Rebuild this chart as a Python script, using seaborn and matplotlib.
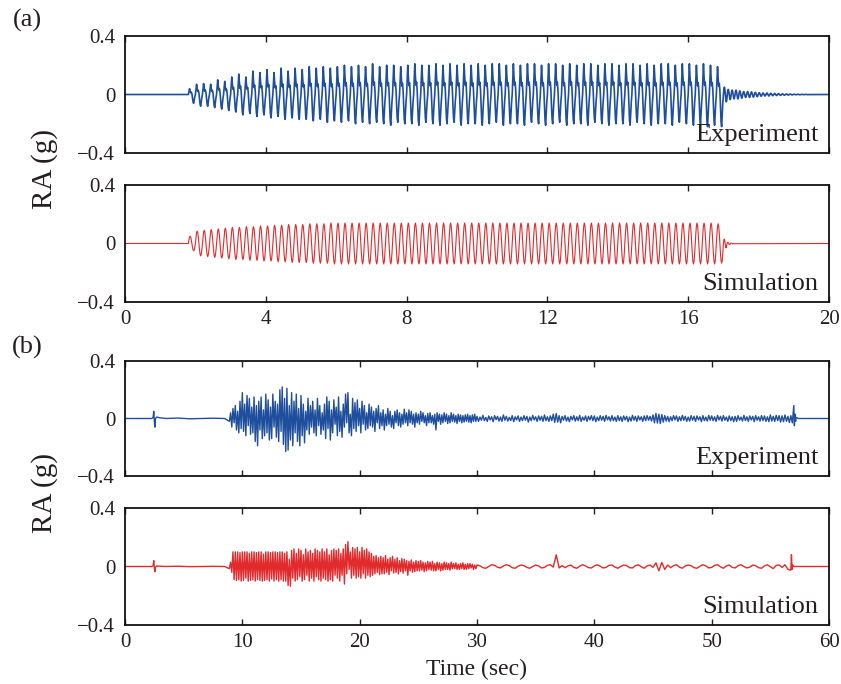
import numpy as np
import pandas as pd
import seaborn as sns
import matplotlib
matplotlib.use('Agg')
import matplotlib.pyplot as plt

# ---------------- panel (a): harmonic test, 5 Hz ----------------
a_start = 1.8        # s, first cycle
a_period = 0.2       # s
# peak / trough of every cycle
exp_top = [0.04, 0.07, 0.075, 0.07, 0.10, 0.09,
           0.12, 0.14, 0.12, 0.16, 0.15,
           0.17, 0.15, 0.18, 0.16, 0.18,
           0.17, 0.19, 0.18, 0.19, 0.18,
           0.19, 0.20, 0.19, 0.20, 0.19, 0.21, 0.19, 0.20, 0.20, 0.19,
           0.20, 0.21, 0.20, 0.20, 0.21, 0.20, 0.21, 0.20, 0.21, 0.20,
           0.21, 0.20, 0.21, 0.21, 0.20, 0.21, 0.20, 0.21, 0.21, 0.20,
           0.21, 0.21, 0.20, 0.21, 0.20, 0.21, 0.21, 0.20, 0.21, 0.21,
           0.20, 0.21, 0.21, 0.20, 0.21, 0.20, 0.21, 0.21, 0.20, 0.21,
           0.21, 0.20, 0.21, 0.20, 0.19]
exp_bot = [-0.06, -0.08, -0.08, -0.09, -0.10, -0.11,
           -0.12, -0.14, -0.13, -0.15, -0.14,
           -0.16, -0.15, -0.17, -0.16, -0.17,
           -0.17, -0.18, -0.17, -0.19, -0.18,
           -0.19, -0.18, -0.20, -0.19, -0.20, -0.19, -0.20, -0.21, -0.19, -0.20,
           -0.20, -0.21, -0.19, -0.20, -0.21, -0.20, -0.19, -0.21, -0.20, -0.20,
           -0.21, -0.20, -0.19, -0.21, -0.20, -0.20, -0.21, -0.19, -0.20, -0.21,
           -0.20, -0.19, -0.21, -0.20, -0.20, -0.21, -0.19, -0.20, -0.21, -0.20,
           -0.20, -0.21, -0.19, -0.20, -0.21, -0.20, -0.20, -0.21, -0.19, -0.20,
           -0.21, -0.20, -0.22, -0.21, -0.22]
sim_amp = [0.05, 0.085, 0.09, 0.095, 0.10, 0.105,
           0.11, 0.11, 0.115, 0.115, 0.12,
           0.12, 0.125, 0.125, 0.13, 0.13,
           0.13, 0.135, 0.135, 0.135, 0.14,
           0.14, 0.14, 0.14, 0.14, 0.14, 0.14, 0.14, 0.14, 0.14, 0.14,
           0.14, 0.14, 0.14, 0.14, 0.14, 0.14, 0.14, 0.14, 0.14, 0.14,
           0.14, 0.14, 0.14, 0.14, 0.14, 0.14, 0.14, 0.14, 0.14, 0.14,
           0.14, 0.14, 0.14, 0.14, 0.14, 0.14, 0.14, 0.14, 0.14, 0.14,
           0.14, 0.14, 0.14, 0.14, 0.14, 0.14, 0.14, 0.14, 0.14, 0.14,
           0.14, 0.14, 0.14, 0.14, 0.135]
# one-cycle wave shapes (normalised)
exp_shape = [0.0, 0.55, 1.0, 0.6, 0.3, 0.4, 0.15, -0.4, -0.85, -1.0, -0.6, -0.25]
sine_shape = [0.0, 0.5, 0.87, 1.0, 0.87, 0.5, 0.0, -0.5, -0.87, -1.0, -0.87, -0.5]
# free vibration after the shaking stops
exp_ring_period = 0.11
exp_ring_amp = [0.05, 0.035, 0.03, 0.03, 0.025, 0.02, 0.02, 0.018, 0.015, 0.012, 0.01,
                0.01, 0.008, 0.007, 0.006, 0.005, 0.004, 0.003, 0.002, 0.002, 0.001, 0.001]
sim_ring_period = 0.1
sim_ring_amp = [0.03, 0.008, 0.003]

# ---------------- panel (b): earthquake record ----------------
exp_pre_t = [0.0, 2.3, 2.4, 2.45, 2.5, 2.55, 2.6, 2.7, 2.9, 3.5, 4.5, 5.5, 6.5, 7.5, 8.5, 8.9]
exp_pre_v = [0.0, 0.0, 0.01, 0.05, -0.02, -0.06, 0.0, 0.01, 0.006, 0.0, 0.003, -0.002, 0.0, 0.002, 0.0, -0.02]
sim_pre_t = [0.0, 2.3, 2.4, 2.45, 2.5, 2.55, 2.6, 2.7, 2.9, 3.5, 4.5, 5.5, 6.5, 7.5, 8.5, 8.9]
sim_pre_v = [0.0, 0.0, 0.005, 0.04, -0.01, -0.035, -0.005, 0.004, 0.002, 0.0, 0.002, -0.001, 0.0, 0.001, 0.0, -0.015]

main_t0, main_dt = 9.0, 0.1      # strong motion part, 9-30 s
exp_main = [
    0.04, -0.06, 0.07, -0.03, 0.09, -0.08, 0.05, -0.10, 0.12, -0.07,
    0.18, -0.09, 0.10, -0.12, 0.16, -0.05, 0.14, -0.11, 0.08, -0.10,
    0.15, -0.16, 0.09, -0.19, 0.12, -0.08, 0.15, -0.14, 0.06, -0.12,
    0.17, -0.10, 0.13, -0.15, 0.08, -0.14, 0.17, -0.06, 0.12, -0.13,
    0.10, -0.16, 0.20, -0.09, 0.22, -0.18, 0.14, -0.23, 0.21, -0.22,
    0.09, -0.15, 0.18, -0.19, 0.12, -0.10, 0.17, -0.16, 0.07, -0.19,
    0.16, -0.12, 0.10, -0.17, 0.05, -0.08, 0.14, -0.11, 0.09, -0.06,
    0.12, -0.10, 0.06, -0.12, 0.14, -0.05, 0.09, -0.11, 0.04, -0.08,
    0.10, -0.14, 0.15, -0.07, 0.12, -0.15, 0.06, -0.10, 0.13, -0.04,
    0.08, -0.12, 0.15, -0.09, 0.05, -0.13, 0.10, -0.06, 0.17, -0.03,
    0.18, -0.10, 0.03, -0.12, 0.14, -0.07, 0.11, -0.09, 0.13, -0.05,
    0.07, -0.10, 0.12, -0.04, 0.09, -0.08, 0.04, -0.07, 0.10, -0.05,
    0.08, -0.06, 0.05, -0.09, 0.07, -0.03, 0.09, -0.07, 0.04, -0.05,
    0.06, -0.08, 0.03, -0.05, 0.07, -0.04, 0.05, -0.06, 0.02, -0.07,
    0.05, -0.03, 0.06, -0.05, 0.04, -0.06, 0.03, -0.04, 0.065, -0.03,
    0.04, -0.05, 0.06, -0.03, 0.05, -0.04, 0.03, -0.06, 0.04, -0.03,
    0.03, -0.04, 0.05, -0.02, 0.04, -0.03, 0.02, -0.05, 0.035, -0.03,
    0.04, -0.03, 0.02, -0.04, 0.03, -0.08, 0.04, -0.02, 0.03, -0.04,
    0.025, -0.03, 0.04, -0.02, 0.03, -0.035, 0.02, -0.03, 0.04, -0.02,
    0.03, -0.025, 0.02, -0.035, 0.03, -0.02, 0.025, -0.03, 0.02, -0.025,
    0.025, -0.02, 0.03, -0.025, 0.02, -0.03, 0.025, -0.02, 0.03, -0.02]
sim_main = [
    0.03, -0.04, 0.10, -0.09, 0.10, -0.095, 0.10, -0.09, 0.095, -0.10,
    0.10, -0.095, 0.10, -0.08, 0.10, -0.10, 0.09, -0.095, 0.10, -0.09,
    0.10, -0.10, 0.095, -0.09, 0.10, -0.095, 0.10, -0.10, 0.085, -0.095,
    0.10, -0.09, 0.10, -0.10, 0.095, -0.085, 0.10, -0.10, 0.10, -0.09,
    0.095, -0.10, 0.10, -0.09, 0.10, -0.10, 0.09, -0.10, 0.10, -0.13,
    0.05, -0.135, 0.11, -0.08, 0.12, -0.10, 0.09, -0.09, 0.12, -0.07,
    0.11, -0.10, 0.08, -0.09, 0.12, -0.06, 0.10, -0.10, 0.11, -0.08,
    0.09, -0.10, 0.12, -0.07, 0.11, -0.09, 0.10, -0.10, 0.12, -0.08,
    0.10, -0.09, 0.12, -0.10, 0.08, -0.09, 0.11, -0.10, 0.12, -0.06,
    0.11, -0.08, 0.12, -0.10, 0.09, -0.06, 0.12, -0.12, 0.15, -0.05,
    0.17, -0.02, 0.10, -0.08, 0.13, -0.06, 0.12, -0.08, 0.13, -0.07,
    0.10, -0.08, 0.13, -0.05, 0.11, -0.08, 0.12, -0.06, 0.10, -0.07,
    0.09, -0.06, 0.07, -0.05, 0.075, -0.04, 0.06, -0.055, 0.07, -0.05,
    0.06, -0.05, 0.075, -0.04, 0.05, -0.055, 0.06, -0.03, 0.07, -0.045,
    0.05, -0.04, 0.06, -0.05, 0.04, -0.035, 0.055, -0.045, 0.05, -0.03,
    0.04, -0.06, 0.035, -0.03, 0.045, -0.04, 0.03, -0.035, 0.04, -0.03,
    0.035, -0.03, 0.04, -0.025, 0.03, -0.035, 0.025, -0.03, 0.035, -0.02,
    0.03, -0.025, 0.035, -0.03, 0.02, -0.03, 0.03, -0.02, 0.025, -0.03,
    0.02, -0.025, 0.03, -0.02, 0.025, -0.02, 0.02, -0.025, 0.03, -0.015,
    0.02, -0.015, 0.025, -0.02, 0.015, -0.02, 0.02, -0.015, 0.025, -0.02,
    0.015, -0.02, 0.02, -0.015, 0.02, -0.01, 0.015, -0.02, 0.01, -0.015]

tail_t0 = 30.0                   # weak motion part, 30-57 s
exp_tail_dt = 0.125
exp_tail = [
    0.015, -0.02, 0.01, -0.012, 0.022, -0.015, 0.008, -0.02, 0.018, -0.01, 0.012, -0.022, 0.02, -0.008, 0.015, -0.018,
    0.01, -0.02, 0.025, -0.012, 0.015, -0.018, 0.008, -0.015, 0.02, -0.022, 0.012, -0.01, 0.018, -0.02, 0.01, -0.015,
    0.02, -0.012, 0.015, -0.025, 0.01, -0.015, 0.022, -0.01, 0.012, -0.02, 0.018, -0.012, 0.015, -0.02, 0.025, -0.015,
    0.012, -0.02, 0.018, -0.015, 0.03, -0.028, 0.035, -0.025, 0.02, -0.03, 0.015, -0.012, 0.02, -0.018, 0.01, -0.022,
    0.015, -0.01, 0.02, -0.018, 0.012, -0.015, 0.022, -0.02, 0.01, -0.012, 0.018, -0.02, 0.015, -0.01, 0.02, -0.015,
    0.018, -0.022, 0.01, -0.015, 0.02, -0.012, 0.015, -0.02, 0.022, -0.01, 0.012, -0.018, 0.02, -0.015, 0.01, -0.02,
    0.02, -0.015, 0.012, -0.02, 0.018, -0.01, 0.015, -0.022, 0.01, -0.018, 0.022, -0.012, 0.015, -0.02, 0.018, -0.01,
    0.012, -0.02, 0.018, -0.015, 0.02, -0.012, 0.015, -0.018, 0.025, -0.03, 0.035, -0.032, 0.03, -0.035, 0.028, -0.025,
    0.02, -0.018, 0.015, -0.022, 0.012, -0.015, 0.02, -0.01, 0.018, -0.02, 0.012, -0.015, 0.022, -0.012, 0.015, -0.02,
    0.01, -0.018, 0.02, -0.012, 0.015, -0.02, 0.018, -0.01, 0.012, -0.022, 0.02, -0.015, 0.01, -0.018, 0.022, -0.012,
    0.018, -0.015, 0.012, -0.02, 0.022, -0.01, 0.015, -0.018, 0.02, -0.012, 0.01, -0.02, 0.018, -0.015, 0.012, -0.022,
    0.015, -0.02, 0.02, -0.012, 0.01, -0.018, 0.022, -0.015, 0.012, -0.02, 0.018, -0.01, 0.015, -0.022, 0.02, -0.012,
    0.012, -0.018, 0.02, -0.015, 0.018, -0.02, 0.012, -0.022, 0.025, -0.018, 0.015, -0.02, 0.022, -0.015, 0.02, -0.025,
    0.018, -0.022, 0.025, -0.02, 0.015, -0.028, 0.02, -0.03]
sim_tail_dt = 0.25
sim_tail = [
    0.01, 0.005, -0.008, -0.012, 0.0, 0.012, 0.008, -0.005,
    -0.01, 0.004, 0.012, 0.006, -0.008, -0.012, 0.002, 0.01,
    0.006, -0.006, -0.012, 0.0, 0.01, 0.004, -0.01, -0.006,
    0.008, 0.012, -0.004, 0.08, -0.01, 0.006, -0.008, 0.004,
    0.01, -0.006, -0.012, 0.002, 0.012, 0.004, -0.008, -0.01,
    0.004, 0.012, 0.002, -0.01, -0.006, 0.008, 0.01, -0.004,
    -0.012, 0.0, 0.01, 0.006, -0.008, -0.01, 0.006, 0.012,
    -0.002, -0.012, 0.004, 0.01, -0.006, 0.025, -0.03, 0.028,
    -0.02, 0.01, -0.008, 0.006, 0.012, -0.004, -0.012, 0.004,
    0.01, 0.006, -0.008, -0.012, 0.002, 0.012, 0.004, -0.01,
    -0.006, 0.008, 0.012, -0.002, -0.012, 0.004, 0.01, -0.006,
    -0.01, 0.006, 0.012, 0.0, -0.01, -0.004, 0.01, 0.006,
    -0.008, -0.012, 0.004, 0.012, -0.002, -0.014, 0.008, 0.01,
    -0.006, 0.012, -0.02, -0.025]
exp_end_t = [57.0, 57.05, 57.1, 57.15, 57.2, 57.4, 60.0]
exp_end_v = [0.09, -0.05, 0.03, -0.02, 0.008, 0.0, 0.0]
sim_end_t = [56.8, 56.85, 56.9, 57.0, 57.1, 60.0]
sim_end_v = [0.08, -0.02, 0.01, 0.0, 0.0, 0.0]

blue = '#1f4f9c'
red = '#e02a2c'
ink = '#231f20'


def build_cycles(t0, period, top, bot, shape):
    n = len(shape)
    t, v = [], []
    for k, (hi, lo) in enumerate(zip(top, bot)):
        for j, s in enumerate(shape):
            t.append(t0 + period * (k + j / n))
            v.append(s * hi if s >= 0 else s * abs(lo))
    return t, v


# assemble panel (a) series
t_c, v_c = build_cycles(a_start, a_period, exp_top, exp_bot, exp_shape)
a_end = a_start + a_period * len(exp_top)
t_r, v_r = build_cycles(a_end, exp_ring_period, exp_ring_amp, exp_ring_amp, sine_shape)
exp_a = pd.DataFrame({'t': [0.0, a_start] + t_c + t_r + [20.0],
                      'ra': [0.0, 0.0] + v_c + v_r + [0.0]})

t_c, v_c = build_cycles(a_start, a_period, sim_amp, sim_amp, sine_shape)
t_r, v_r = build_cycles(a_end, sim_ring_period, sim_ring_amp, sim_ring_amp, sine_shape)
sim_a = pd.DataFrame({'t': [0.0, a_start] + t_c + t_r + [20.0],
                      'ra': [0.0, 0.0] + v_c + v_r + [0.0]})


# assemble panel (b) series
def build_b(pre_t, pre_v, main, tail, tail_dt, end_t, end_v):
    mt = list(main_t0 + main_dt * np.arange(len(main)))
    tt = list(tail_t0 + tail_dt * np.arange(len(tail)))
    return pd.DataFrame({'t': pre_t + mt + tt + end_t,
                         'ra': pre_v + main + tail + end_v})


exp_b = build_b(exp_pre_t, exp_pre_v, exp_main, exp_tail, exp_tail_dt, exp_end_t, exp_end_v)
sim_b = build_b(sim_pre_t, sim_pre_v, sim_main, sim_tail, sim_tail_dt, sim_end_t, sim_end_v)

# ---------------- figure ----------------
sns.set_style('ticks')
plt.rcParams['font.family'] = ['Liberation Serif', 'DejaVu Serif']
plt.rcParams['axes.unicode_minus'] = True

fig = plt.figure(figsize=(8.41, 6.84), dpi=100)
W, H = 841.0, 684.0
left, width = 125 / W, 704 / W
boxes = [(36, 153), (185, 302), (361, 476), (508, 625)]
axes = [fig.add_axes([left, 1 - b / H, width, (b - t) / H]) for t, b in boxes]

panels = [(exp_a, blue, 1.2, 'Experiment', 20, [0, 4, 8, 12, 16, 20], False),
          (sim_a, red, 0.8, 'Simulation', 20, [0, 4, 8, 12, 16, 20], True),
          (exp_b, blue, 1.0, 'Experiment', 60, [0, 10, 20, 30, 40, 50, 60], False),
          (sim_b, red, 1.0, 'Simulation', 60, [0, 10, 20, 30, 40, 50, 60], True)]

for ax, (df, col, lw, name, xmax, xt, show_x) in zip(axes, panels):
    sns.lineplot(data=df, x='t', y='ra', ax=ax, color=col, lw=lw,
                 estimator=None, sort=False)
    ax.set_xlim(0, xmax)
    ax.set_ylim(-0.4, 0.4)
    ax.set_xticks(xt)
    ax.set_yticks([-0.4, 0, 0.4])
    ax.set_yticklabels(['\u22120.4', '0', '0.4'])
    if not show_x:
        ax.set_xticklabels([])
    ax.set_xlabel('')
    ax.set_ylabel('')
    ax.tick_params(direction='in', length=4, width=1.0, top=True, right=True,
                   labelsize=15, colors=ink, pad=6)
    ax.tick_params(axis='y', length=0, pad=7)
    for sp in ax.spines.values():
        sp.set_visible(True)
        sp.set_linewidth(1.3)
        sp.set_color('#111111')
    ax.text(0.985, 0.06, name, transform=ax.transAxes, ha='right', va='bottom',
            fontsize=19, color=ink)

axes[3].set_xlabel('Time (sec)', fontsize=17, color=ink, labelpad=5)

fig.text(45 / W, 1 - 169 / H, 'RA (g)', rotation=90, ha='center', va='center',
         fontsize=21, color=ink)
fig.text(45 / W, 1 - 493 / H, 'RA (g)', rotation=90, ha='center', va='center',
         fontsize=21, color=ink)
fig.text(27 / W, 1 - 20 / H, '(a)', ha='center', va='center', fontsize=19, color=ink)
fig.text(27 / W, 1 - 347 / H, '(b)', ha='center', va='center', fontsize=19, color=ink)

fig.savefig('out.png', dpi=100)
